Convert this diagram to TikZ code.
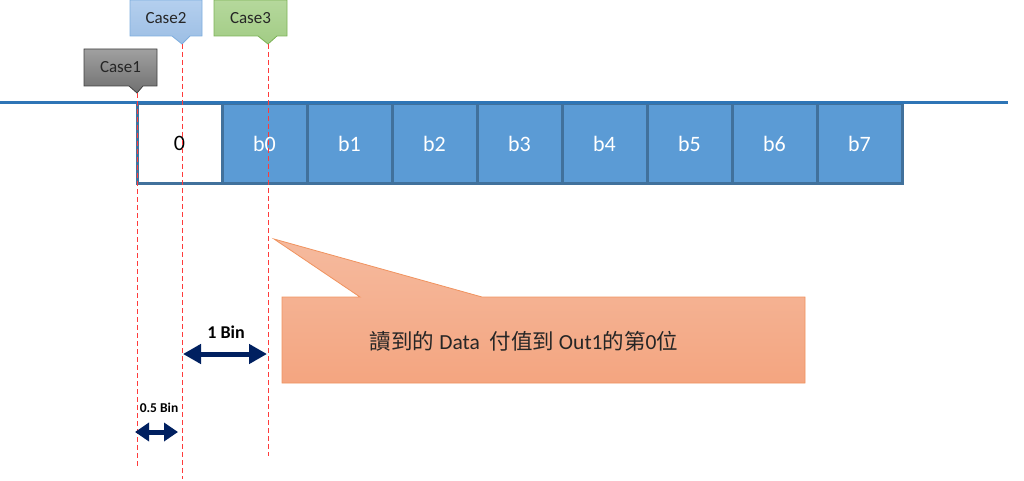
\documentclass[tikz,border=0pt]{standalone}
\usepackage{fontspec}
\setmainfont{Carlito}
\newfontfamily\cjk{Noto Sans CJK TC}
\usetikzlibrary{arrows.meta}
\definecolor{cellfill}{HTML}{5B9BD5}
\definecolor{celledge}{HTML}{41719C}
\definecolor{topline}{HTML}{2E75B6}
\definecolor{guide}{HTML}{FF3B3B}
\definecolor{navy}{HTML}{002060}
\definecolor{orgtop}{HTML}{F5BA9E}
\definecolor{orgbot}{HTML}{F4A580}
\definecolor{orgedge}{HTML}{F0935F}
\definecolor{graytop}{HTML}{A0A0A0}
\definecolor{graybot}{HTML}{707070}
\definecolor{bluetop}{HTML}{B4CFEE}
\definecolor{bluebot}{HTML}{9CBEE4}
\definecolor{blueedge}{HTML}{7EAEDE}
\definecolor{greentop}{HTML}{B5D89C}
\definecolor{greenbot}{HTML}{A2CC85}
\definecolor{greenedge}{HTML}{7DB357}
\tikzset{
  cell/.style={rectangle, minimum width=85pt, minimum height=79pt, inner sep=0pt,
    draw=celledge, line width=3pt, fill=cellfill, text=white, font=\fontsize{22}{26}\selectfont},
  guideline/.style={draw=guide, line width=1pt, dash pattern=on 5pt off 3pt},
  binarrow/.style={draw=navy, line width=5pt, {Triangle[length=18pt,width=19pt]}-{Triangle[length=18pt,width=19pt]}},
  smallarrow/.style={draw=navy, line width=5pt, {Triangle[length=14pt,width=18pt]}-{Triangle[length=14pt,width=18pt]}},
  caselabel/.style={font=\fontsize{17}{20}\selectfont, text=black!85},
}
\begin{document}
\begin{tikzpicture}[x=1pt,y=-1pt]
\useasboundingbox (0,0) rectangle (1024,481);
% cells
\node[cell, fill=white, text=black] (c0) at (179.5,143.5) {0};
\foreach \i/\t in {1/b0,2/b1,3/b2,4/b3,5/b4,6/b5,7/b6,8/b7}{
  \node[cell] (c\i) at ({179.5+85*\i},143.5) {\t};
}
% top line
\coordinate (lineL) at (0,103);
\coordinate (lineR) at (1008,103);
\draw[topline, line width=3pt] (lineL) -- (lineR);
% callouts
\path[draw=black!75, line width=0.8pt, top color=graytop, bottom color=graybot]
  (84,49) -- (157,49) -- (157,86) -- (143,86) -- (137,93) -- (129,86) -- (84,86) -- cycle;
\node[caselabel] (case1) at (120.5,67.5) {Case1};
\coordinate (tip1) at (137,93);
\path[draw=blueedge, line width=0.8pt, top color=bluetop, bottom color=bluebot]
  (130,0) -- (202,0) -- (202,36) -- (190,36) -- (182,44) -- (172,36) -- (130,36) -- cycle;
\node[caselabel] (case2) at (166,18) {Case2};
\coordinate (tip2) at (182,44);
\path[draw=greenedge, line width=0.8pt, top color=greentop, bottom color=greenbot]
  (214,0) -- (287,0) -- (287,36) -- (277,36) -- (268,44) -- (258,36) -- (214,36) -- cycle;
\node[caselabel] (case3) at (250.5,18) {Case3};
\coordinate (tip3) at (268,44);
% guides
\coordinate (end1) at (137,467);
\coordinate (end2) at (182,479);
\coordinate (end3) at (268,456);
\draw[guideline] (tip1) -- (end1);
\draw[guideline] (tip2) -- (end2);
\draw[guideline] (tip3) -- (end3);
% orange callout
\path[draw=orgedge, line width=0.8pt, top color=orgtop, bottom color=orgbot]
  (282,297) -- (360,297) -- (274,239) -- (482,297) -- (805,297) -- (805,383) -- (282,383) -- cycle;
\node[font=\fontsize{21.5}{26}\selectfont, text=black!85] (note) at (524,341)
  {{\cjk 讀到的} Data\ \ {\cjk 付值到} Out1{\cjk 的第}0{\cjk 位}};
% arrows
\coordinate (a1L) at (183,354);
\coordinate (a1R) at (267,354);
\draw[binarrow] (a1L) -- (a1R);
\node[font=\bfseries\fontsize{18}{21}\selectfont] (bin1) at (226,332) {1 Bin};
\coordinate (a2L) at (135,432);
\coordinate (a2R) at (178,432);
\draw[smallarrow] (a2L) -- (a2R);
\node[font=\bfseries\fontsize{13.5}{16}\selectfont] (bin05) at (159,408) {0.5 Bin};
\end{tikzpicture}
\end{document}
